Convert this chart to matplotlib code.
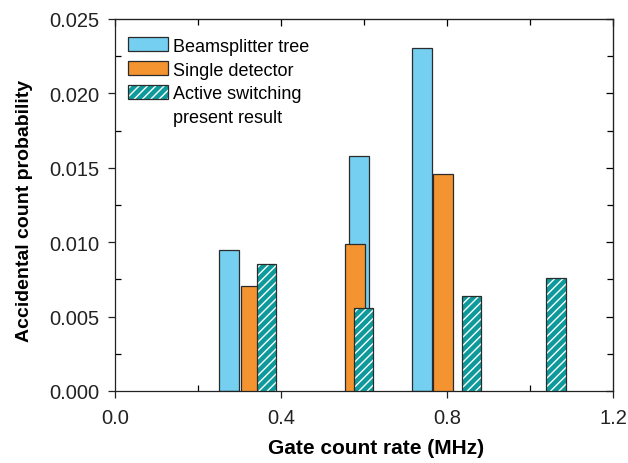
import numpy as np
import matplotlib
matplotlib.use('Agg')
import matplotlib.pyplot as plt
from matplotlib.patches import Patch
from matplotlib.ticker import MultipleLocator, FormatStrFormatter

plt.rcParams['font.family'] = ['Liberation Sans', 'DejaVu Sans']

# gate count rate (MHz) and accidental count probability, per setup
beam_x = [0.275, 0.588, 0.740]
beam_y = [0.00945, 0.01577, 0.02303]
single_x = [0.327, 0.578, 0.790]
single_y = [0.00704, 0.00986, 0.01461]
active_x = [0.365, 0.599, 0.859, 1.063]
active_y = [0.00853, 0.00558, 0.00636, 0.00757]

labels = ['Beamsplitter tree', 'Single detector', 'Active switching', 'present result']

blue = '#74CFF0'
orange = '#F39431'
teal = '#0E9A9B'
edge = '#2b2b2b'
width = 0.047

fig = plt.figure(figsize=(6.28, 4.64), dpi=100)
ax = fig.add_axes([0.1831, 0.1552, 0.7930, 0.8017])

ax.bar(beam_x, beam_y, width=width, color=blue, edgecolor=edge, linewidth=0.9, zorder=2)
ax.bar(single_x, single_y, width=width, color=orange, edgecolor=edge, linewidth=0.9, zorder=3)
# hatch in white, outline drawn on top in dark
ax.bar(active_x, active_y, width=width, color=teal, edgecolor='white', hatch='////',
       linewidth=0, zorder=4)
ax.bar(active_x, active_y, width=width, fill=False, edgecolor=edge, linewidth=0.9, zorder=5)

ax.set_xlim(0, 1.2)
ax.set_ylim(0, 0.025)
ax.xaxis.set_major_locator(MultipleLocator(0.4))
ax.xaxis.set_minor_locator(MultipleLocator(0.2))
ax.yaxis.set_major_locator(MultipleLocator(0.005))
ax.yaxis.set_minor_locator(MultipleLocator(0.0025))
ax.xaxis.set_major_formatter(FormatStrFormatter('%.1f'))
ax.yaxis.set_major_formatter(FormatStrFormatter('%.3f'))

ax.tick_params(which='major', direction='out', length=5, width=0.9, labelsize=14.5,
               colors='#222222')
ax.tick_params(axis='x', which='major', pad=7)
ax.tick_params(axis='y', which='major', pad=6)
ax.tick_params(which='minor', direction='in', length=4, width=0.9)
for s in ax.spines.values():
    s.set_linewidth(0.9)
    s.set_color('#222222')

top = ax.secondary_xaxis('top')
top.xaxis.set_major_locator(MultipleLocator(0.4))
top.xaxis.set_minor_locator(MultipleLocator(0.2))
top.tick_params(which='major', direction='in', length=5, width=0.9, labeltop=False)
top.tick_params(which='minor', direction='in', length=4, width=0.9)
right = ax.secondary_yaxis('right')
right.yaxis.set_major_locator(MultipleLocator(0.005))
right.yaxis.set_minor_locator(MultipleLocator(0.0025))
right.tick_params(which='major', direction='in', length=5, width=0.9, labelright=False)
right.tick_params(which='minor', direction='in', length=4, width=0.9)

ax.set_xlabel('Gate count rate (MHz)', fontsize=15, fontweight='bold')
ax.set_ylabel('Accidental count probability', fontsize=14, fontweight='bold')
ax.xaxis.set_label_coords(0.524, -0.126)
ax.yaxis.set_label_coords(-0.165, 0.487)

h1 = Patch(facecolor=blue, edgecolor=edge, linewidth=0.9)
h2 = Patch(facecolor=orange, edgecolor=edge, linewidth=0.9)
h3a = Patch(facecolor=teal, edgecolor='white', hatch='////', linewidth=0)
h3b = Patch(fill=False, edgecolor=edge, linewidth=0.9)
h4 = Patch(facecolor='none', edgecolor='none')
ax.legend([h1, h2, (h3a, h3b), h4], labels, loc='upper left',
          bbox_to_anchor=(-0.006, 0.994),
          frameon=False, fontsize=13, handlelength=2.2, handleheight=0.8,
          handletextpad=0.3, labelspacing=0.37, borderaxespad=0.5)

fig.savefig('out.png', dpi=100)
